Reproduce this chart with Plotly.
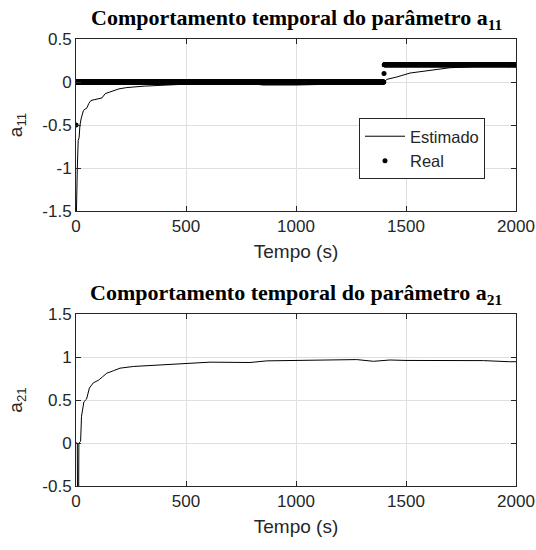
import numpy as np
import plotly.graph_objects as go

# ---- data ----
# Estimated a11
t_a11 = [0, 2, 6, 10, 14, 18, 24, 34, 50, 58, 68, 95, 118, 133, 155, 195, 230, 310,
         500, 700, 800, 850, 1000, 1200, 1390, 1398, 1412, 1458, 1518, 1579, 1700, 1852, 1970, 2000]
est_a11 = [-1.6, -1.5, -1.0, -0.68, -0.65, -0.5, -0.42, -0.33, -0.30, -0.25, -0.215, -0.20, -0.185,
           -0.135, -0.115, -0.08, -0.065, -0.048, -0.025, -0.015, -0.02, -0.035, -0.035, -0.025,
           -0.02, -0.012, 0.03, 0.058, 0.104, 0.127, 0.166, 0.185, 0.193, 0.195]

# Real a11: piecewise-constant levels and the sample times where each level starts
real_levels = [-0.5, 0.0, 0.1, 0.2]
real_starts = [0, 1, 1400, 1401]
real_end = 2000

# Estimated a21
t_a21 = [0, 6, 7, 12, 13, 21, 25, 36, 48, 61, 79, 102, 121, 139, 170, 200, 261, 503, 609,
         791, 867, 1000, 1276, 1352, 1427, 1500, 1700, 1852, 1970, 2000]
est_a21 = [0.0, 0.0, -0.7, -0.7, 0.0, 0.02, 0.31, 0.48, 0.51, 0.64, 0.70, 0.73, 0.77, 0.81,
           0.84, 0.87, 0.89, 0.93, 0.94, 0.936, 0.955, 0.96, 0.97, 0.95, 0.965, 0.96, 0.955,
           0.958, 0.945, 0.945]

x_ticks = [0, 500, 1000, 1500, 2000]
x_ticktext = ["0", "500", "1000", "1500", "2000"]
y1_ticks = [-1.5, -1.0, -0.5, 0.0, 0.5]
y1_ticktext = ["-1.5", "-1", "-0.5", "0", "0.5"]
y2_ticks = [-0.5, 0.0, 0.5, 1.0, 1.5]
y2_ticktext = ["-0.5", "0", "0.5", "1", "1.5"]

# build real series from the levels
t_real = np.arange(0, real_end + 1)
real_a11 = np.zeros_like(t_real, dtype=float)
for lvl, st in zip(real_levels, real_starts):
    real_a11[t_real >= st] = lvl

# ---- figure ----
W, H = 536, 550
ml, mr, mt, mb = 76, 20, 39, 64
ph = H - mt - mb
panel_h = 172

def py(p):  # page pixel y -> paper y
    return (H - mb - p) / ph

fig = go.Figure()
fig.add_trace(go.Scatter(x=t_a11, y=est_a11, mode="lines", name="Estimado",
                         line=dict(color="black", width=1), xaxis="x", yaxis="y"))
fig.add_trace(go.Scatter(x=t_real, y=real_a11, mode="markers", name="Real",
                         marker=dict(color="black", size=5), xaxis="x", yaxis="y"))
fig.add_trace(go.Scatter(x=t_a21, y=est_a21, mode="lines", showlegend=False,
                         line=dict(color="black", width=1), xaxis="x2", yaxis="y2"))

axcol = "#262626"
gridcol = "#dfdfdf"
tickfont = dict(family="Liberation Sans, Arial", size=17, color=axcol)
titlefont = dict(family="Liberation Sans, Arial", size=19, color=axcol)

common_x = dict(range=[0, 2000], tickvals=x_ticks, ticktext=x_ticktext, showline=True,
                linecolor=axcol, linewidth=1, mirror="ticks", ticks="inside", ticklen=5,
                tickcolor=axcol, showgrid=True, gridcolor=gridcol, zeroline=False,
                tickfont=tickfont, automargin=False,
                title=dict(text="Tempo (s)", font=titlefont, standoff=9))
common_y = dict(showline=True, linecolor=axcol, linewidth=1, mirror="ticks", ticks="inside",
                ticklen=5, tickcolor=axcol, showgrid=True, gridcolor=gridcol, zeroline=False,
                tickfont=tickfont, automargin=False)

fig.update_layout(
    width=W, height=H, margin=dict(l=ml, r=mr, t=mt, b=mb, autoexpand=False),
    paper_bgcolor="white", plot_bgcolor="white",
    xaxis=dict(**common_x, domain=[0, 1], anchor="y"),
    yaxis=dict(**common_y, domain=[py(39 + panel_h), 1], anchor="x", range=[-1.5, 0.5],
               tickvals=y1_ticks, ticktext=y1_ticktext,
               title=dict(text="a<sub>11</sub>", font=titlefont, standoff=14)),
    xaxis2=dict(**common_x, domain=[0, 1], anchor="y2"),
    yaxis2=dict(**common_y, domain=[0, py(314)], anchor="x2", range=[-0.5, 1.5],
                tickvals=y2_ticks, ticktext=y2_ticktext,
                title=dict(text="a<sub>21</sub>", font=titlefont, standoff=14)),
    legend=dict(x=(359 - ml) / (W - ml - mr), y=py(118), xanchor="left", yanchor="top",
                bgcolor="white", bordercolor=axcol, borderwidth=1, itemwidth=40,
                font=dict(family="Liberation Sans, Arial", size=16.5, color=axcol),
                tracegroupgap=0),
    showlegend=True,
)

tfont = dict(family="Liberation Serif, Times New Roman", size=22, color="black")
fig.add_annotation(text="<b>Comportamento temporal do parâmetro a<sub>11</sub></b>",
                   xref="paper", yref="paper", x=0.5, y=py(19), xanchor="center",
                   yanchor="middle", showarrow=False, font=tfont)
fig.add_annotation(text="<b>Comportamento temporal do parâmetro a<sub>21</sub></b>",
                   xref="paper", yref="paper", x=0.5, y=py(294), xanchor="center",
                   yanchor="middle", showarrow=False, font=tfont)

# remove the browser's default 8px body margin so the figure fills the window exactly
fig.write_html("out.html", config={"displayModeBar": False},
               post_script="document.body.style.margin='0px';document.body.style.overflow='hidden';")
